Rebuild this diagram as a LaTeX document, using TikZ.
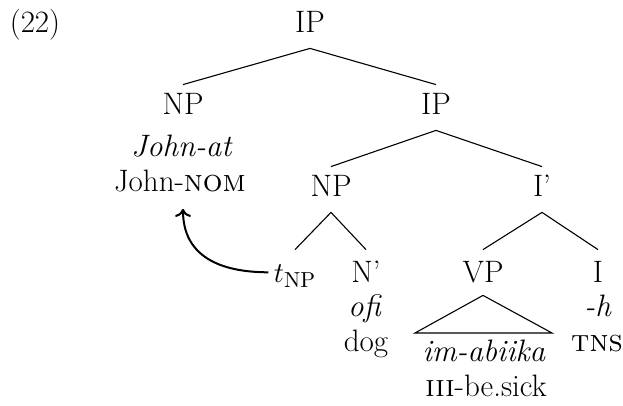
\documentclass[tikz,border=0pt]{standalone}
\usetikzlibrary{arrows.meta}
\begin{document}
\begin{tikzpicture}[x=0.5pt,y=-0.5pt,
  lbl/.style={font=\fontsize{15.5}{18}\selectfont, inner sep=0pt, anchor=base},
  cat/.style={lbl, text height=10.7pt, text depth=0pt},
  branch/.style={line width=0.55pt},
  move/.style={line width=1pt, -{To[length=4pt,width=8pt]}}]
\useasboundingbox (0,0) rectangle (623,406);
% labels
\node[lbl] (ex) at (35,33) {(22)};
\node[cat] (ip) at (310,33) {IP};
\node[cat] (npj) at (183,115) {NP};
\node[lbl] (johnit) at (182,157) {\textit{John-at}};
\node[lbl] (johng) at (180,192) {John-\textsc{nom}};
\node[cat] (ipr) at (436,115) {IP};
\node[cat] (np) at (331,197) {NP};
\node[cat] (ibar) at (542,197) {I'};
\node[cat] (t) at (295,283) {$t$\textsubscript{NP}};
\node[cat] (nbar) at (366,283) {N'};
\node[lbl] (ofi) at (365,317) {\textit{ofi}};
\node[lbl] (dog) at (366,352) {dog};
\node[cat] (vp) at (483,283) {VP};
\node[cat] (i) at (598,283) {I};
\node[lbl] (h) at (598,317) {\textit{-h}};
\node[lbl] (tns) at (597,352) {\textsc{tns}};
\node[lbl] (verb) at (484,362) {\textit{im-abiika}};
\node[lbl] (gl) at (486,397) {\textsc{iii}-be.sick};
% branches
\draw[branch] ([yshift=-7.5pt]ip.south) -- ([yshift=4.3pt]npj.north);
\draw[branch] ([yshift=-7.5pt]ip.south) -- ([yshift=4.3pt]ipr.north);
\draw[branch] ([yshift=-7.5pt]ipr.south) -- ([yshift=4.3pt]np.north);
\draw[branch] ([yshift=-7.5pt]ipr.south) -- ([yshift=4.3pt]ibar.north);
\draw[branch] ([yshift=-7.5pt]np.south) -- ([yshift=5.8pt]t.north);
\draw[branch] ([yshift=-7.5pt]np.south) -- ([yshift=5.8pt]nbar.north);
\draw[branch] ([yshift=-7.5pt]ibar.south) -- ([yshift=5.8pt]vp.north);
\draw[branch] ([yshift=-7.5pt]ibar.south) -- ([yshift=5.8pt]i.north);
% triangle
\coordinate (tl) at (415,333);
\coordinate (tr) at (552,333);
\draw[branch] ([yshift=-6pt]vp.south) -- (tl) -- (tr) -- cycle;
% movement arrow
\draw[move] ([xshift=-2.5pt]t.west) to[out=180,in=-90,looseness=1.15] ([xshift=1.5pt,yshift=-8pt]johng.south);
\end{tikzpicture}
\end{document}
